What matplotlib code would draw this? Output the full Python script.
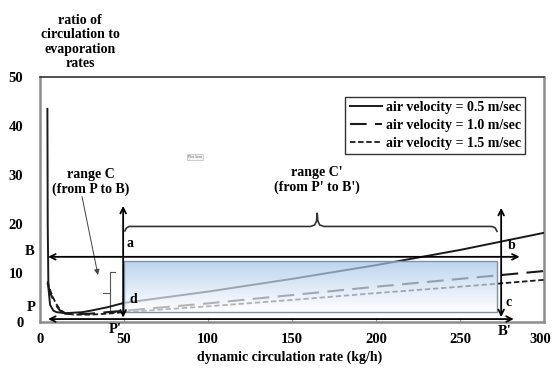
import numpy as np
import matplotlib
matplotlib.use('Agg')
from matplotlib import pyplot as plt
from matplotlib.colors import LinearSegmentedColormap
from matplotlib.patches import Rectangle
from matplotlib.transforms import ScaledTranslation

# curves (x in kg/h, y = ratio)
x_05 = [4.4, 4.6, 5.0, 6, 8, 10, 15, 20, 25, 30, 40, 50, 100, 150, 200, 250, 300]
y_05 = [43.5, 20, 7, 3.5, 2.3, 2.0, 1.8, 1.9, 2.0, 2.3, 3.0, 3.9, 6.2, 8.8, 11.6, 14.7, 18.2]
x_10 = [4.5, 6, 8, 10, 12, 15, 20, 30, 40, 50, 100, 150, 200, 250, 300]
y_10 = [8.0, 6.0, 4.5, 3.2, 2.3, 1.7, 1.6, 1.7, 2.0, 2.3, 3.8, 5.5, 7.2, 8.8, 10.4]
x_15 = [4.5, 6, 8, 10, 12, 15, 20, 30, 40, 50, 100, 150, 200, 250, 300]
y_15 = [8.3, 6.5, 4.8, 3.5, 2.5, 1.8, 1.5, 1.5, 1.7, 2.0, 3.2, 4.5, 5.9, 7.2, 8.6]
labels = ['air velocity = 0.5 m/sec', 'air velocity = 1.0 m/sec',
          'air velocity = 1.5 m/sec']

xticks = [0, 50, 100, 150, 200, 250, 300]
yticks = [0, 10, 20, 30, 40, 50]

# range markers
P_y, B_y = 0.6, 13.3
Pp_x, Bp_x = 49.5, 274.5
box = (50, 272, 2.0, 12.4)

plt.rcParams['font.family'] = ['Liberation Serif', 'DejaVu Serif']
plt.rcParams['font.weight'] = 'bold'

fig = plt.figure(figsize=(5.53, 3.69), dpi=100)
ax = fig.add_axes([40 / 553, 1 - 322 / 369, 504 / 553, 245 / 369])

ax.plot(x_05, y_05, '-', color='#1a1a1a', lw=1.4, label=labels[0], zorder=3)
ax.plot(x_10, y_10, color='#1a1a1a', lw=1.5, dashes=(8, 4), label=labels[1], zorder=3)
ax.plot(x_15, y_15, color='#1a1a1a', lw=1.3, dashes=(3, 1.5), label=labels[2], zorder=3)

# shaded range box, gradient light blue to white
cmap = LinearSegmentedColormap.from_list('bw', ['#ffffff', '#a2c3e7'])
grad = np.linspace(0, 1, 100).reshape(-1, 1)
ax.imshow(grad, extent=box, origin='lower', aspect='auto', cmap=cmap,
          alpha=0.7, zorder=4)
ax.add_patch(Rectangle((box[0], box[2]), box[1] - box[0], box[3] - box[2],
                       fill=False, ec='#7d93ad', lw=1.0, zorder=5))

arr = dict(arrowstyle='<->', lw=1.3, color='black', shrinkA=0, shrinkB=0,
           mutation_scale=10)
ax.annotate('', xy=(4.8, B_y), xytext=(285.5, B_y), arrowprops=arr, zorder=6)
ax.annotate('', xy=(4.8, P_y), xytext=(282, P_y), arrowprops=arr, zorder=6,
            annotation_clip=False)
ax.annotate('', xy=(Pp_x, 0.9), xytext=(Pp_x, 23.7), arrowprops=arr, zorder=6)
ax.annotate('', xy=(Bp_x, 1.0), xytext=(Bp_x, 23.3), arrowprops=arr, zorder=6)

# curly brace over range C'
bx = [50.5, 51.5, 53, 161, 163.5, 164.6, 165, 165.4, 166.5, 169, 269, 271, 272]
by = [18.6, 19.2, 19.5, 19.5, 19.8, 20.6, 22.2, 20.6, 19.8, 19.5, 19.5, 19.2, 18.5]
ax.plot(bx, by, color='#333333', lw=1.2, zorder=6)

# small bracket left of the box
ax.plot([44.5, 41.7, 41.7, 44.5], [10.2, 10.2, 2.0, 2.0], color='#555555', lw=0.8)
ax.plot([37.5, 41.7], [5.9, 5.9], color='#555555', lw=0.8)

ax.text(30, 28.5, 'range C\n(from P to B)', ha='center', va='center',
        fontsize=10, linespacing=1.15)
ax.annotate('', xy=(34.5, 9.6), xytext=(25, 25.6),
            arrowprops=dict(arrowstyle='-|>', lw=0.7, color='#444444',
                            mutation_scale=8, shrinkA=0, shrinkB=0))
ax.text(165, 29, "range C'\n(from P' to B')", ha='center', va='center',
        fontsize=10, linespacing=1.15)

for s, (tx, ty) in zip('abcd', [(53.5, 16.0), (280.5, 15.7), (279, 3.9), (55.5, 4.6)]):
    ax.text(tx, ty, s, ha='center', va='center', fontsize=10, zorder=7)

ax.text(-6, 14.3, 'B', ha='center', va='center', fontsize=10.5, clip_on=False)
ax.text(-5, 2.9, 'P', ha='center', va='center', fontsize=10.5, clip_on=False)
ax.text(44.5, -1.6, "P'", ha='center', va='center', fontsize=10.5, clip_on=False)
ax.text(276.5, -1.9, "B'", ha='center', va='center', fontsize=10.5, clip_on=False)

# Excel "Plot Area" tooltip leftover
ax.text(92, 33.6, 'Plot Area', fontsize=2.5, color='#888888', ha='center',
        va='center', bbox=dict(boxstyle='square,pad=0.3', fc='#f4f4f4',
                               ec='#bbbbbb', lw=0.5))

ax.set_xlim(0, 300)
ax.set_ylim(0, 50)
ax.set_xticks(xticks)
ax.set_yticks(yticks)
ax.tick_params(axis='y', length=0, pad=12, labelsize=10.5)
ax.tick_params(axis='x', direction='in', length=3, color='#999999', pad=8,
               labelsize=10.5)
# keep the last x label inside the figure edge
last = ax.get_xticklabels()[-1]
last.set_transform(last.get_transform() +
                   ScaledTranslation(-4 / 100, 0, fig.dpi_scale_trans))
for sp in ax.spines.values():
    sp.set_color('#8c8c8c')
    sp.set_linewidth(1.8)
ax.spines['top'].set_color('#333333')
ax.spines['top'].set_linewidth(1.2)

leg = ax.legend(loc='upper right', bbox_to_anchor=(0.962, 0.918), fontsize=10,
                frameon=True, fancybox=False, handlelength=2.3, handletextpad=0.3,
                borderpad=0.3, labelspacing=0.35, borderaxespad=0)
leg.get_frame().set_edgecolor('black')
leg.get_frame().set_linewidth(1.0)

fig.text(80 / 553, 1 - 42 / 369, 'ratio of\ncirculation to\nevaporation\nrates',
         ha='center', va='center', fontsize=10, linespacing=1.15)
fig.text(290 / 553, 1 - 357 / 369, 'dynamic circulation rate (kg/h)',
         ha='center', va='center', fontsize=10)

fig.savefig('out.png', dpi=100)
